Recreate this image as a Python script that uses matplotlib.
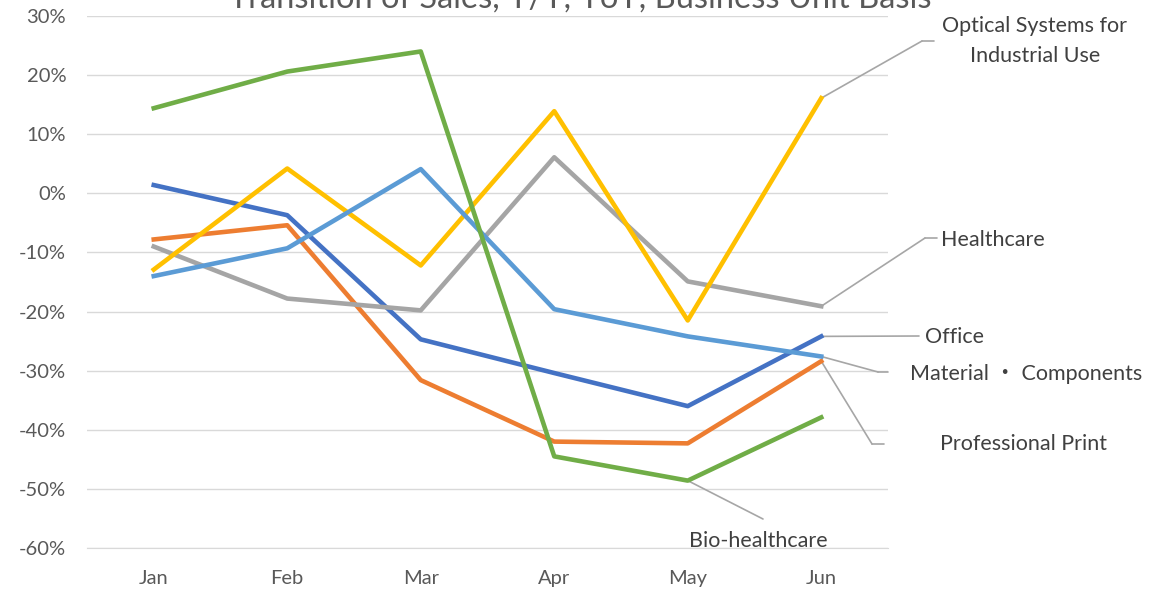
import matplotlib
matplotlib.use("Agg")
import matplotlib.pyplot as plt
from matplotlib.ticker import PercentFormatter

plt.rcParams['font.family'] = ['Lato', 'Noto Sans CJK JP', 'DejaVu Sans']
plt.rcParams['axes.unicode_minus'] = False

months = ["Jan", "Feb", "Mar", "Apr", "May", "Jun"]

office = [1.4, -3.7, -24.7, -30.4, -36.0, -24.2]
professional_print = [-7.8, -5.4, -31.6, -42.0, -42.3, -28.4]
healthcare = [-9.0, -17.8, -19.8, 6.1, -14.9, -19.1]
optical = [-12.9, 4.2, -12.2, 13.9, -21.5, 16.1]
material = [-14.0, -9.3, 4.1, -19.6, -24.2, -27.6]
bio = [14.4, 20.6, 24.0, -44.5, -48.6, -37.9]

series = [
    ("Office", office, "#4472C4"),
    ("Professional Print", professional_print, "#ED7D31"),
    ("Healthcare", healthcare, "#A5A5A5"),
    ("Optical Systems for\nIndustrial Use", optical, "#FFC000"),
    ("Material \u30fb Components", material, "#5B9BD5"),
    ("Bio-healthcare", bio, "#70AD47"),
]

W, H = 1161, 590
fig = plt.figure(figsize=(W / 100, H / 100), dpi=100)
ax = fig.add_axes([87 / W, 1 - 548 / H, (888 - 87) / W, (548 - 16) / H])

x = list(range(len(months)))
for name, vals, col in series:
    ax.plot(x, vals, color=col, lw=3.3, solid_joinstyle="round", zorder=3)

ax.set_xlim(-0.5, 5.5)
ax.set_ylim(-60, 30)
ax.set_yticks(range(-60, 31, 10))
ax.yaxis.set_major_formatter(PercentFormatter(decimals=0))
ax.set_xticks(x)
ax.set_xticklabels(months)
ax.grid(axis="y", color="#D9D9D9", lw=1)
ax.set_axisbelow(True)
for s in ["top", "right", "left"]:
    ax.spines[s].set_visible(False)
ax.spines["bottom"].set_color("#D9D9D9")
ax.tick_params(length=0, labelsize=14.5, colors="#595959")
ax.tick_params(axis="y", pad=15)
ax.tick_params(axis="x", pad=16)

# title is partly cut off at the top, as in the source image
fig.text(0.5, 1 - 8 / H, "Transition of Sales, Y/Y, YoY, Business Unit Basis",
         ha="center", va="baseline", fontsize=23.5, color="#595959")

# data labels with leader lines (pixel positions from top-left)
lead = "#A6A6A6"
labels = [
    ("Optical Systems for\nIndustrial Use", optical, 5, [(922, 41), (934, 41)], (1035, 41), "center"),
    ("Healthcare", healthcare, 5, [(925, 238), (937, 238)], (941, 240), "left"),
    ("Office", office, 5, [(919, 336)], (925, 337), "left"),
    ("Material \u30fb Components", material, 5, [(878, 372), (888, 372)], (910, 374), "left"),
    ("Professional Print", professional_print, 5, [(872, 444), (884, 444)], (940, 444), "left"),
    ("Bio-healthcare", bio, 4, [(763, 519)], (689, 541), "left"),
]
for text, vals, i, path, (tx, ty), ha in labels:
    start = (i, vals[i])
    prev = None
    for px, py in path:
        pt = (px, H - py)
        if prev is None:
            ax.annotate("", xy=start, xycoords="data", xytext=pt,
                        textcoords="figure pixels",
                        arrowprops=dict(arrowstyle="-", color=lead, lw=1.2,
                                        shrinkA=0, shrinkB=0), zorder=2)
        else:
            ax.annotate("", xy=prev, xycoords="figure pixels", xytext=pt,
                        textcoords="figure pixels",
                        arrowprops=dict(arrowstyle="-", color=lead, lw=1.2,
                                        shrinkA=0, shrinkB=0), zorder=2)
        prev = pt
    fig.text(tx / W, 1 - ty / H, text, ha=ha, va="center", fontsize=15.5,
             color="#404040", linespacing=1.68, multialignment="center")

fig.savefig("out.png", dpi=100)
